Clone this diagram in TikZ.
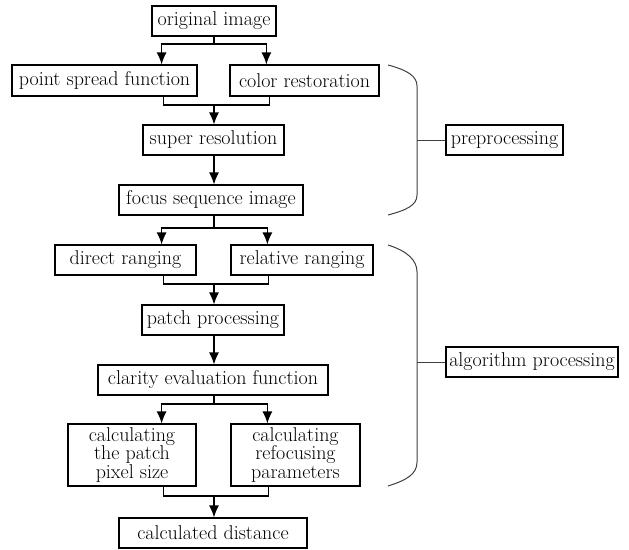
\documentclass[tikz,border=0pt]{standalone}
\usetikzlibrary{arrows.meta}
\begin{document}
\begin{tikzpicture}[x=1pt,y=-1pt,
  box/.style={draw,line width=1.2pt,inner sep=0pt,align=center,
    font=\fontsize{20}{18.5}\selectfont},
  arr/.style={line width=1.2pt,-{Latex[length=12pt,width=10pt]}},
  ln/.style={line width=1.2pt},
  brace/.style={line width=1pt,draw=black!75}]
\useasboundingbox (0,0) rectangle (629,549);
\node[box,minimum width=124pt,minimum height=30pt] (orig) at (214,21) {original image};
\node[box,minimum width=185pt,minimum height=31pt] (psf) at (104.5,80.5) {point spread function};
\node[box,minimum width=149pt,minimum height=31pt] (color) at (304.5,80.5) {color restoration};
\node[box,minimum width=141pt,minimum height=30pt] (sr) at (213.5,140) {super resolution};
\node[box,minimum width=184pt,minimum height=30pt] (fsi) at (211,200) {focus sequence image};
\node[box,minimum width=141pt,minimum height=30pt] (dr) at (125.5,260) {direct ranging};
\node[box,minimum width=142pt,minimum height=30pt] (rr) at (302,260) {relative ranging};
\node[box,minimum width=142pt,minimum height=30pt] (pp) at (213,320) {patch processing};
\node[box,minimum width=230pt,minimum height=30pt] (cef) at (213,380) {clarity evaluation function};
\node[box,minimum width=128pt,minimum height=62pt] (cpps) at (132,455) {calculating\\the patch\\pixel size};
\node[box,minimum width=129pt,minimum height=62pt] (crp) at (295.5,455) {calculating\\refocusing\\parameters};
\node[box,minimum width=188pt,minimum height=30pt] (cd) at (213,533) {calculated distance};
\node[box,minimum width=117pt,minimum height=30pt] (pre) at (504.5,140) {preprocessing};
\node[box,minimum width=172pt,minimum height=30pt] (alg) at (532,362) {algorithm processing};
% splits
\coordinate (s1) at (214,44);
\draw[ln] (orig.south -| s1) -- (s1);
\draw[arr] (s1) -| ([xshift=-36pt]psf.north east);
\draw[arr] (s1) -| ([xshift=37pt]color.north west);
\coordinate (m1) at (214,105);
\draw[ln] ([xshift=-34pt]psf.south east) |- (m1) -| ([xshift=40pt]color.south west);
\draw[arr] (m1) -- (sr.north -| m1);
\draw[arr] (sr.south -| m1) -- (fsi.north -| m1);
\coordinate (s2) at (214,228);
\draw[ln] (fsi.south -| s2) -- (s2);
\draw[arr] (s2) -| ([xshift=-35pt]dr.north east);
\draw[arr] (s2) -| ([xshift=37pt]rr.north west);
\coordinate (m2) at (214,284);
\draw[ln] ([xshift=-33pt]dr.south east) |- (m2) -| ([xshift=38pt]rr.south west);
\draw[arr] (m2) -- (pp.north -| m2);
\draw[arr] (pp.south -| m2) -- (cef.north -| m2);
\coordinate (s3) at (214,404);
\draw[ln] (cef.south -| s3) -- (s3);
\draw[arr] (s3) -| ([xshift=-35pt]cpps.north east);
\draw[arr] (s3) -| ([xshift=37pt]crp.north west);
\coordinate (m3) at (214,496);
\draw[ln] ([xshift=-33pt]cpps.south east) |- (m3) -| ([xshift=38pt]crp.south west);
\draw[arr] (m3) -- (cd.north -| m3);
% braces
\coordinate (b1) at (417,140);
\coordinate (b2) at (417,362);
\draw[brace] (388,65) .. controls (407,70) and (417,76) .. (417,86) -- (417,195)
  .. controls (417,205) and (407,210) .. (388,215);
\draw[brace] (b1) -- (pre.west);
\draw[brace] (388,245) .. controls (407,251) and (417,260) .. (417,272) -- (417,462)
  .. controls (417,474) and (407,480) .. (388,486);
\draw[brace] (b2) -- (alg.west);
\end{tikzpicture}
\end{document}
